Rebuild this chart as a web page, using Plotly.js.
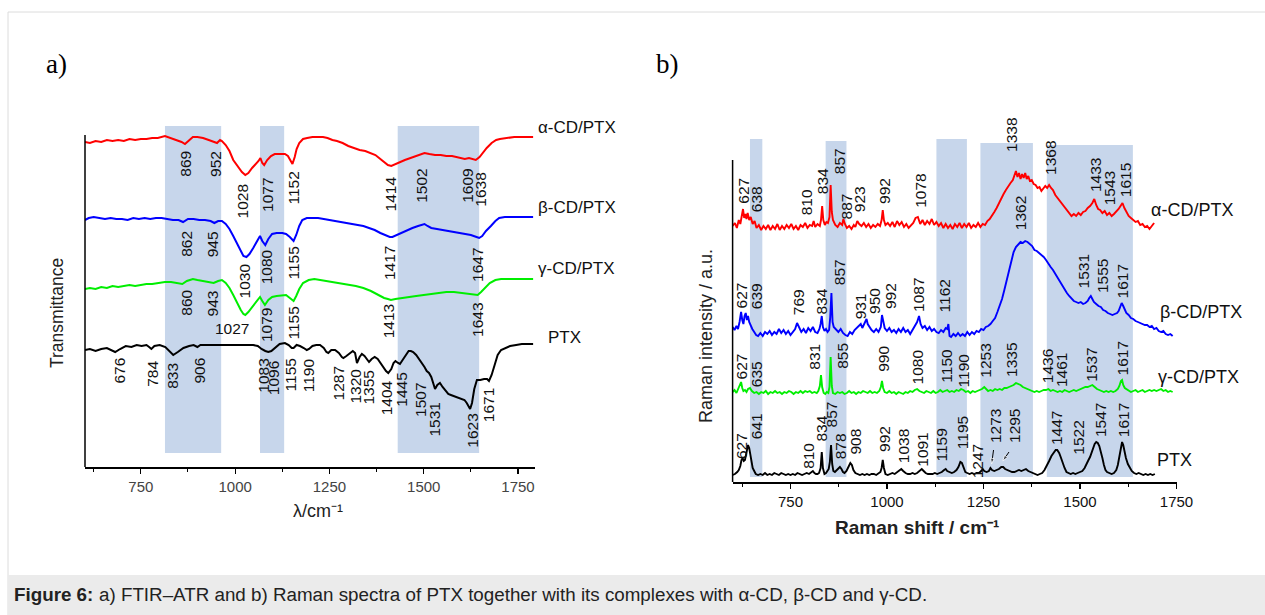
<!DOCTYPE html>
<html><head><meta charset="utf-8">
<script src="https://cdn.plot.ly/plotly-3.0.1.min.js"></script>
<style>html,body{margin:0;padding:0;background:#fff;}#chart{width:1265px;height:615px;}</style>
</head><body><div id="chart"></div>
<script>
// ---------- Panel a: FTIR-ATR (transmittance, offset, arbitrary units) ----------
const ftirAlphaX = [602,615,630,645,660,675,690,705,720,735,750,765,780,795,814,830,845,858,867,878,888,900,915,930,945,952,960,965,975,985,995,1008,1018,1027,1035,1045,1055,1062,1067,1072,1077,1085,1095,1105,1120,1132,1140,1147,1152,1158,1163,1170,1180,1191,1205,1220,1233,1245,1258,1270,1285,1300,1315,1330,1345,1360,1372,1385,1395,1405,1414,1425,1437,1450,1465,1480,1490,1502,1515,1530,1545,1560,1575,1588,1600,1609,1620,1630,1638,1648,1658,1667,1680,1692,1702,1720,1740,1760,1780,1790];
const ftirAlphaY = [325,324,326,325,327,326,327,326,328,327,328,328,329,329,331,329,327,325,323,327,330,330,329,327,325,324,327,326,322,316,307,300,295,292,294,299,303,306,309,304,302,307,311,313,313,313,311,306,303,310,318,324,328,329,330,330,330,329,327,326,324,321,319,317,316,314,312,308,305,302,301,303,305,307,309,311,313,314,313,312,312,311,311,310,309,308,309,308,307,310,315,319,324,327,328,329,330,330,330,330];

const ftirBetaX = [602,612,625,640,655,670,685,700,715,730,745,760,775,790,805,820,835,850,862,875,890,905,920,935,945,955,965,975,985,995,1005,1015,1022,1030,1038,1048,1058,1066,1072,1080,1088,1098,1110,1125,1135,1145,1155,1162,1170,1178,1190,1205,1220,1235,1250,1265,1280,1295,1310,1325,1340,1355,1370,1385,1400,1410,1417,1428,1440,1455,1470,1485,1495,1502,1510,1520,1535,1550,1565,1580,1595,1610,1625,1640,1647,1655,1665,1678,1690,1700,1715,1735,1760,1790];
const ftirBetaY = [247,249,250,249,248,249,248,248,247,249,248,249,248,249,249,248,247,247,245,248,248,247,247,246,244,246,246,243,238,231,223,215,211,210,213,219,226,231,226,222,228,233,234,234,233,230,226,232,241,247,249,249,249,248,247,246,245,244,243,242,241,239,237,234,232,230,230,232,234,237,239,241,242,243,241,239,238,237,236,235,234,233,232,230,229,231,236,241,246,249,250,250,250,250];

const ftirGammaX = [602,615,630,645,660,675,690,705,720,735,750,765,780,795,814,830,845,860,872,888,900,915,930,943,955,965,975,985,995,1005,1015,1022,1027,1035,1045,1055,1066,1072,1079,1088,1098,1110,1125,1135,1145,1155,1162,1170,1180,1195,1210,1225,1240,1260,1280,1300,1320,1340,1360,1380,1395,1405,1413,1425,1440,1460,1480,1500,1520,1540,1560,1580,1600,1620,1635,1643,1652,1662,1675,1690,1705,1730,1760,1790];
const ftirGammaY = [178,179,178,180,179,181,180,181,182,181,182,183,183,184,185,185,184,183,186,188,187,186,185,184,186,187,184,179,172,164,157,153,152,155,160,165,170,166,162,167,170,171,172,172,169,166,171,178,184,187,188,187,186,185,184,182,181,179,176,172,169,168,167,168,169,170,171,172,173,174,175,175,174,173,172,172,175,179,184,187,188,188,188,188];

const ftirPtxX = [602,615,630,645,660,670,682,695,710,725,739,752,765,772,778,786,800,815,825,836,848,863,878,890,900,908,925,945,965,985,1005,1025,1048,1060,1070,1080,1088,1096,1105,1118,1132,1142,1150,1155,1163,1172,1182,1190,1196,1205,1215,1225,1235,1242,1247,1255,1265,1275,1283,1287,1295,1305,1312,1318,1323,1330,1336,1343,1350,1355,1362,1370,1378,1385,1393,1400,1406,1414,1420,1425,1432,1437,1444,1452,1460,1466,1472,1480,1488,1495,1502,1508,1514,1520,1526,1530,1536,1543,1550,1558,1565,1572,1580,1590,1600,1608,1614,1619,1623,1628,1634,1641,1650,1660,1668,1673,1680,1688,1696,1705,1715,1729,1745,1760,1775,1790];
const ftirPtxY = [117,118,116,118,119,117,115,118,121,120,122,121,122,120,118,121,122,120,116,112,115,119,121,122,120,122,122,122,122,122,122,122,122,121,118,116,115,116,119,123,124,122,119,119,122,121,119,117,118,121,122,122,119,115,114,117,117,114,110,109,111,114,116,114,104,110,113,111,107,105,108,110,108,104,100,96,94,98,104,106,104,103,107,112,116,116,115,112,108,104,100,96,94,90,84,78,82,84,80,76,73,72,71,70,68,67,64,60,58,64,78,87,87,88,88,86,92,102,112,117,119,121,122,123,123,123];

const ftirBandStart = [814, 1066, 1431];
const ftirBandEnd   = [963, 1130, 1647];

const ftirAlphaLabels = ['869','952','1028','1077','1152','1414','1502','1609','1638'];
const ftirAlphaLabelX = [869, 949, 1022, 1087, 1156, 1413, 1495, 1617, 1651];
const ftirAlphaLabelY = [317, 317, 284, 290, 297, 292, 299, 299, 295];
const ftirBetaLabels = ['862','945','1030','1080','1155','1417','1647'];
const ftirBetaLabelX = [872, 942, 1026, 1084, 1156, 1408, 1641];
const ftirBetaLabelY = [237, 237, 205, 219, 222, 222, 220];
const ftirGammaLabels = ['860','943','1079','1155','1413','1643'];
const ftirGammaLabelX = [869, 940, 1082, 1156, 1406, 1641];
const ftirGammaLabelY = [178, 178, 160, 162, 164, 165];
const ftirGammaFlatLabel = '1027', ftirGammaFlatX = 993, ftirGammaFlatY = 139;
const ftirPtxLabels = ['676','784','833','906','1083','1096','1155','1190','1287','1320','1355','1404','1445','1507','1531','1623','1671'];
const ftirPtxLabelX = [691, 779, 832, 903, 1073, 1101, 1148, 1194, 1274, 1318, 1351, 1402, 1439, 1490, 1526, 1627, 1671];
const ftirPtxLabelY = [110, 107, 105, 110, 109, 107, 110, 110, 102, 99, 97, 88, 95, 85, 65, 54, 80];
const ftirSeriesNames = ['α-CD/PTX','β-CD/PTX','γ-CD/PTX','PTX'];

// ---------- Panel b: Raman (intensity, offset, a.u.) ----------
const ramanAlphaX = [600,606,611,616,620,624,627,630,633,636,639,643,647,652,657,662,668,674,680,686,692,698,704,710,716,722,728,734,740,746,752,758,764,770,776,782,788,794,800,806,810,814,820,826,829,832,835,839,843,847,851,854,857,860,866,872,878,884,887,891,896,902,908,914,918,923,928,934,940,946,952,958,964,970,976,982,986,989,992,996,1002,1008,1014,1020,1026,1032,1038,1044,1050,1056,1062,1068,1074,1080,1086,1092,1098,1104,1110,1116,1122,1128,1134,1140,1146,1152,1158,1164,1170,1176,1182,1188,1194,1200,1206,1212,1218,1224,1230,1236,1242,1248,1254,1260,1266,1272,1278,1284,1290,1296,1302,1308,1314,1320,1326,1330,1334,1338,1342,1346,1350,1354,1358,1362,1366,1370,1375,1380,1385,1390,1395,1400,1405,1410,1415,1420,1425,1430,1436,1442,1448,1454,1460,1466,1472,1478,1484,1490,1496,1502,1508,1514,1520,1526,1532,1537,1542,1547,1552,1558,1564,1570,1576,1582,1588,1594,1600,1605,1610,1615,1620,1626,1632,1638,1644,1650,1656,1662,1668,1674,1680,1686,1692];
const ramanAlphaY = [256,259,254,262,258,268,273,264,268,263,269,262,265,258,261,254,257,252,256,253,257,252,256,253,258,252,256,253,257,254,258,253,256,252,257,255,259,254,257,256,261,255,258,256,262,276,262,257,260,259,265,297,270,262,257,255,259,257,263,258,254,256,253,257,255,261,258,256,259,255,258,254,257,255,258,256,262,272,262,257,259,256,260,255,261,257,260,255,258,254,257,259,264,265,258,262,257,261,258,263,257,260,256,259,254,258,254,257,253,258,255,259,254,258,255,259,254,257,255,259,255,258,257,261,263,266,270,274,279,284,288,292,296,299,302,306,311,305,309,303,308,304,309,303,306,301,302,298,297,294,295,291,294,296,294,297,294,292,287,284,281,278,275,271,268,266,268,266,269,267,270,271,274,276,279,283,277,273,272,269,271,267,269,266,268,270,273,276,279,274,270,266,264,262,260,261,257,258,255,256,253,256,259];

const ramanBetaX = [600,605,610,614,618,622,625,628,631,634,637,640,643,647,651,656,661,666,672,678,684,690,696,702,708,714,720,726,732,738,744,750,756,762,767,772,778,784,790,796,802,808,814,820,825,828,831,834,838,842,846,850,853,856,859,862,868,874,880,886,892,898,904,910,916,922,928,932,936,940,944,947,950,954,960,966,972,978,984,987,990,994,1000,1006,1012,1018,1024,1030,1036,1042,1048,1054,1060,1066,1072,1078,1083,1087,1092,1098,1104,1110,1116,1122,1128,1134,1140,1146,1152,1156,1159,1162,1166,1172,1178,1184,1190,1196,1202,1208,1214,1220,1226,1232,1238,1244,1250,1256,1262,1268,1274,1280,1286,1292,1298,1304,1310,1316,1322,1328,1334,1340,1346,1352,1358,1364,1370,1376,1382,1388,1394,1400,1406,1412,1418,1424,1430,1436,1442,1448,1454,1460,1466,1472,1478,1484,1490,1496,1502,1508,1514,1520,1524,1528,1532,1536,1542,1548,1554,1560,1566,1572,1578,1584,1590,1596,1600,1604,1608,1612,1616,1620,1626,1632,1638,1644,1650,1656,1662,1668,1674,1680,1686,1692,1698,1704,1710,1716,1722,1728,1734,1740];
const ramanBetaY = [155,152,156,153,160,170,162,158,166,169,162,166,160,156,153,150,147,146,149,146,150,148,151,147,150,148,153,149,152,148,151,147,150,153,159,154,150,153,149,154,151,155,150,149,153,158,166,155,151,153,150,152,165,189,160,155,152,150,153,149,147,146,150,148,152,154,156,158,154,157,160,163,158,155,152,150,153,150,155,167,160,154,151,154,150,152,149,153,150,154,150,152,148,152,155,160,166,158,154,156,152,155,151,153,150,149,152,150,154,153,158,146,145,148,146,149,146,148,146,150,147,150,148,151,150,153,152,155,156,158,161,164,170,176,183,192,202,212,222,230,235,238,240,239,241,240,238,236,232,231,229,227,225,222,218,215,212,208,204,200,196,192,189,186,183,181,180,179,180,178,179,181,184,186,183,180,178,176,175,172,171,169,168,167,168,169,171,175,179,176,172,169,167,164,163,161,160,159,158,157,157,155,156,153,154,151,150,151,148,147,148,146];

const ramanGammaX = [600,605,610,614,618,622,625,628,632,636,640,645,650,656,662,668,674,680,686,692,698,704,710,716,722,728,734,740,746,752,758,764,770,776,782,788,794,800,806,812,818,822,826,829,832,836,840,844,848,851,854,857,860,866,872,878,884,890,896,902,908,914,920,926,932,938,944,950,956,962,968,974,980,984,987,990,994,1000,1006,1012,1018,1024,1030,1036,1042,1048,1054,1060,1066,1072,1078,1084,1090,1096,1102,1108,1114,1120,1126,1132,1138,1144,1150,1156,1162,1168,1174,1180,1186,1192,1198,1204,1210,1216,1222,1228,1234,1240,1246,1252,1256,1262,1268,1274,1280,1286,1292,1298,1304,1310,1316,1322,1328,1334,1340,1346,1352,1358,1364,1370,1376,1382,1388,1394,1400,1406,1412,1418,1424,1430,1436,1442,1448,1454,1460,1466,1472,1478,1484,1490,1496,1502,1508,1514,1520,1526,1532,1538,1544,1550,1556,1562,1568,1574,1580,1586,1592,1598,1602,1606,1609,1612,1616,1620,1626,1632,1638,1644,1650,1656,1662,1668,1674,1680,1686,1692,1698,1704,1710,1716,1722,1728,1734,1740];
const ramanGammaY = [90,92,89,93,95,100,94,91,92,90,93,94,91,89,90,88,90,89,91,88,90,89,91,89,90,88,90,89,91,90,88,90,89,91,89,91,90,91,89,90,89,91,96,107,95,89,88,90,89,95,125,96,89,88,90,89,90,88,89,91,89,90,88,90,89,91,90,89,91,89,90,89,91,95,101,94,90,89,91,89,90,88,90,89,88,90,89,91,90,92,93,91,90,89,91,90,89,91,89,90,92,90,91,92,90,91,90,92,91,93,92,90,91,89,91,90,91,92,93,95,93,91,92,91,93,92,93,92,94,94,95,96,97,99,98,97,95,94,93,92,91,90,91,90,91,92,92,93,91,92,91,90,91,90,92,91,90,91,92,91,92,93,94,95,95,96,97,95,93,92,91,90,91,90,91,90,91,93,96,101,102,97,94,93,92,90,91,92,90,91,92,90,91,92,91,92,91,92,93,91,92,90,91,90];

const ramanPtxX = [600,606,612,616,620,623,626,629,632,635,638,640,643,646,649,652,656,660,666,672,678,684,690,696,702,708,714,720,726,732,738,744,750,756,762,768,774,780,786,792,798,804,808,812,816,820,824,828,831,834,838,842,846,849,852,855,858,861,865,870,874,878,882,886,890,895,900,905,909,913,918,924,930,936,942,948,954,960,966,972,978,983,986,989,992,996,1002,1008,1014,1020,1026,1032,1037,1042,1048,1054,1060,1066,1072,1078,1084,1090,1095,1100,1106,1112,1118,1124,1130,1136,1142,1148,1152,1156,1162,1168,1174,1180,1185,1190,1194,1198,1203,1208,1214,1220,1226,1232,1238,1244,1248,1252,1258,1264,1268,1272,1278,1284,1290,1296,1301,1306,1312,1318,1324,1330,1336,1342,1348,1354,1360,1366,1372,1378,1384,1390,1396,1402,1408,1414,1420,1426,1432,1437,1441,1446,1450,1455,1460,1465,1470,1476,1482,1488,1494,1500,1506,1512,1518,1522,1526,1530,1534,1538,1542,1546,1550,1554,1558,1562,1566,1570,1576,1582,1588,1594,1598,1602,1606,1609,1612,1615,1619,1624,1629,1634,1640,1646,1652,1658,1664,1670,1676,1682,1688,1694];
const ramanPtxY = [7,8,10,12,16,22,24,21,22,27,33,37,34,28,20,14,11,8,7,8,7,9,7,8,7,9,8,7,9,8,7,8,7,8,7,9,8,7,8,9,8,10,11,9,8,8,9,14,30,14,8,9,11,13,20,37,18,11,10,12,14,15,13,10,9,11,15,19,17,12,9,8,7,8,7,8,7,8,8,7,9,10,14,22,14,8,7,8,9,8,10,12,13,11,9,8,8,9,8,9,11,13,11,9,8,8,8,9,8,9,10,12,13,11,10,9,10,12,15,20,19,14,10,9,8,9,8,9,9,11,13,11,10,11,14,12,11,12,13,15,15,13,12,11,10,10,11,12,11,12,13,11,10,9,8,7,8,9,12,16,21,26,30,32,32,29,25,19,14,10,9,8,9,8,9,10,11,14,18,22,25,30,34,38,40,39,36,31,24,17,12,10,9,8,9,12,17,25,34,40,37,30,24,18,14,11,9,8,9,8,7,8,7,8,7,8];

const ramanBandStart = [645, 841, 1128, 1242, 1414];
const ramanBandEnd   = [677, 895, 1207, 1378, 1637];
const ramanBandTop   = [343, 341, 343, 339, 337];
const ramanBandBottom = 5;

const ramanAlphaLabels = ['627','638','810','834','857','887','923','992','1078','1338','1368','1433','1543','1615'];
const ramanAlphaLabelX = [626, 661, 791, 832, 876, 895, 928, 992, 1085, 1321, 1422, 1539, 1576, 1617];
const ramanAlphaLabelY = [305, 297, 294, 315, 335, 290, 297, 305, 309, 365, 342, 325, 312, 320];
const ramanBetaLabels = ['627','639','769','834','857','931','950','992','1087','1162','1362','1531','1555','1617'];
const ramanBetaLabelX = [623, 661, 770, 828, 876, 931, 966, 1008, 1080, 1150, 1345, 1509, 1557, 1610];
const ramanBetaLabelY = [201, 200, 194, 194, 224, 190, 195, 200, 205, 204, 287, 229, 224, 219];
const ramanGammaLabels = ['627','635','831','855','990','1080','1150','1190','1253','1335','1436','1461','1537','1617'];
const ramanGammaLabelX = [623, 661, 810, 883, 989, 1080, 1152, 1198, 1253, 1321, 1415, 1451, 1528, 1610];
const ramanGammaLabelY = [130, 122, 139, 140, 137, 134, 134, 130, 139, 140, 134, 130, 135, 142];
const ramanPtxLabels = ['627','641','810','834','857','878','908','992','1038','1091','1159','1195','1247','1273','1295','1447','1522','1547','1617'];
const ramanPtxLabelX = [622, 661, 795, 828, 856, 879, 916, 992, 1042, 1090, 1140, 1196, 1234, 1280, 1329, 1438, 1494, 1552, 1612];
const ramanPtxLabelY = [50, 70, 40, 67, 82, 50, 54, 57, 54, 50, 54, 67, 39, 74, 74, 72, 62, 80, 80];
const ramanArrowTailX = [1276, 1316], ramanArrowTailY = [32, 30];
const ramanArrowTipX = [1271, 1300], ramanArrowTipY = [18, 21];
const ramanSeriesNames = ['α-CD/PTX','β-CD/PTX','γ-CD/PTX','PTX'];
const ramanSeriesNameX = [1680, 1702, 1697, 1694];
const ramanSeriesNameY = [272, 170, 105, 22];

// ---------- layout helpers ----------
const W = 1265, H = 615;
const PX = v => v / W, PY = v => 1 - v / H;
const FONT = 'Liberation Sans, Arial, sans-serif';
const LBL = 15.5;

function rotLabels(texts, xs, ys, xr, yr) {
  return texts.map((t, i) => ({text: t, x: xs[i], y: ys[i], xref: xr, yref: yr, textangle: -90,
    xanchor: 'center', yanchor: 'top', showarrow: false, borderpad: 0,
    font: {family: FONT, size: LBL, color: '#111'}}));
}
function nameLabels(texts, xs, ys, xr, yr, size) {
  return texts.map((t, i) => ({text: t, x: xs[i], y: ys[i], xref: xr, yref: yr,
    xanchor: 'left', yanchor: 'middle', showarrow: false,
    font: {family: FONT, size: size, color: '#111'}}));
}
function pageText(text, xpx, ypx, size, opts) {
  return Object.assign({text: text, x: PX(xpx), y: PY(ypx), xref: 'paper', yref: 'paper',
    xanchor: 'center', yanchor: 'middle', showarrow: false,
    font: {family: FONT, size: size, color: '#222'}}, opts || {});
}

const line = (x, y, c, xa, ya, w) => ({x, y, type: 'scatter', mode: 'lines', xaxis: xa, yaxis: ya,
  line: {color: c, width: w}, hoverinfo: 'skip'});

const traces = [
  line(ftirAlphaX, ftirAlphaY, '#ff0000', 'x', 'y', 2),
  line(ftirBetaX, ftirBetaY, '#0000ff', 'x', 'y', 2),
  line(ftirGammaX, ftirGammaY, '#00ee00', 'x', 'y', 2),
  line(ftirPtxX, ftirPtxY, '#000000', 'x', 'y', 2),
  line(ramanAlphaX, ramanAlphaY, '#ff0000', 'x2', 'y2', 1.9),
  line(ramanBetaX, ramanBetaY, '#0000ff', 'x2', 'y2', 1.9),
  line(ramanGammaX, ramanGammaY, '#00ee00', 'x2', 'y2', 1.9),
  line(ramanPtxX, ramanPtxY, '#000000', 'x2', 'y2', 1.9)
];
// small pointer arrows for 1273 / 1295
ramanArrowTailX.forEach((tx, i) => traces.push({
  x: [tx, ramanArrowTipX[i]], y: [ramanArrowTailY[i], ramanArrowTipY[i]], type: 'scatter', mode: 'lines+markers',
  xaxis: 'x2', yaxis: 'y2', hoverinfo: 'skip', line: {color: '#000', width: 1},
  marker: {symbol: ['circle', 'arrow'], size: [0, 6], angleref: 'previous', color: '#000'}
}));

const BAND = 'rgb(199,214,235)';
const shapes = [];
// page frame + caption band
shapes.push({type: 'line', xref: 'paper', yref: 'paper', x0: PX(8), x1: 1, y0: PY(12), y1: PY(12), line: {color: '#dcdcdc', width: 1}});
shapes.push({type: 'line', xref: 'paper', yref: 'paper', x0: PX(8), x1: PX(8), y0: PY(12), y1: 0, line: {color: '#dcdcdc', width: 1}});
shapes.push({type: 'rect', xref: 'paper', yref: 'paper', x0: PX(8), x1: 1, y0: 0, y1: PY(575), fillcolor: '#ebebeb', line: {width: 0}});
ftirBandStart.forEach((s, i) => shapes.push({type: 'rect', xref: 'x', yref: 'y', x0: s, x1: ftirBandEnd[i], y0: 14, y1: 341,
  fillcolor: BAND, line: {width: 0}, layer: 'below'}));
ramanBandStart.forEach((s, i) => shapes.push({type: 'rect', xref: 'x2', yref: 'y2', x0: s, x1: ramanBandEnd[i], y0: ramanBandBottom, y1: ramanBandTop[i],
  fillcolor: BAND, line: {width: 0}, layer: 'below'}));
// y axis lines (no ticks)
shapes.push({type: 'line', xref: 'paper', yref: 'paper', x0: PX(85), x1: PX(85), y0: PY(467), y1: PY(135), line: {color: '#000', width: 1.5}});
shapes.push({type: 'line', xref: 'paper', yref: 'paper', x0: PX(732.6), x1: PX(732.6), y0: PY(482), y1: PY(160), line: {color: '#000', width: 1.5}});

let annotations = [];
annotations = annotations.concat(
  rotLabels(ftirAlphaLabels, ftirAlphaLabelX, ftirAlphaLabelY, 'x', 'y'),
  rotLabels(ftirBetaLabels, ftirBetaLabelX, ftirBetaLabelY, 'x', 'y'),
  rotLabels(ftirGammaLabels, ftirGammaLabelX, ftirGammaLabelY, 'x', 'y'),
  rotLabels(ftirPtxLabels, ftirPtxLabelX, ftirPtxLabelY, 'x', 'y'),
  rotLabels(ramanAlphaLabels, ramanAlphaLabelX, ramanAlphaLabelY, 'x2', 'y2'),
  rotLabels(ramanBetaLabels, ramanBetaLabelX, ramanBetaLabelY, 'x2', 'y2'),
  rotLabels(ramanGammaLabels, ramanGammaLabelX, ramanGammaLabelY, 'x2', 'y2'),
  rotLabels(ramanPtxLabels, ramanPtxLabelX, ramanPtxLabelY, 'x2', 'y2'),
  nameLabels(ftirSeriesNames, [PX(536), PX(536), PX(536), PX(546)], [PY(127), PY(207), PY(268), PY(337)], 'paper', 'paper', 17),
  nameLabels(ramanSeriesNames, ramanSeriesNameX, ramanSeriesNameY, 'x2', 'y2', 18)
);
annotations.push({text: ftirGammaFlatLabel, x: ftirGammaFlatX, y: ftirGammaFlatY, xref: 'x', yref: 'y',
  showarrow: false, xanchor: 'center', yanchor: 'middle', font: {family: FONT, size: LBL, color: '#111'}});
// panel letters, axis titles, caption
const SERIF = 'Liberation Serif, Times New Roman, serif';
annotations.push(pageText('a)', 57, 64, 27, {font: {family: SERIF, size: 27, color: '#000'}}));
annotations.push(pageText('b)', 668, 64, 27, {font: {family: SERIF, size: 27, color: '#000'}}));
annotations.push(pageText('Transmittance', 57, 313, 17.5, {textangle: -90}));
annotations.push(pageText('λ/cm⁻¹', 318, 511, 18));
annotations.push(pageText('Raman intensity / a.u.', 706, 336, 18, {textangle: -90}));
annotations.push(pageText('Raman shift / cm⁻¹', 917, 527, 19, {font: {family: FONT, size: 19, color: '#222', weight: 'bold'}}));
annotations.push(pageText('Figure 6:', 12, 594, 18.8, {xanchor: 'left', font: {family: FONT, size: 18.8, color: '#222', weight: 'bold'}}));
annotations.push(pageText('a) FTIR–ATR and b) Raman spectra of PTX together with its complexes with α-CD, β-CD and γ-CD.',
  96.5, 594, 18.8, {xanchor: 'left'}));

const xaxisCommon = {showline: true, linecolor: '#000', linewidth: 1.5, ticks: 'outside', ticklen: 5, tickwidth: 1.2,
  tickcolor: '#000', tick0: 750, dtick: 250, showgrid: false, zeroline: false, fixedrange: true,
  minor: {ticks: 'outside', ticklen: 3, tickwidth: 1, tickcolor: '#000', tick0: 625, dtick: 250}};

const layout = {
  width: W, height: H, margin: {l: 0, r: 0, t: 0, b: 0},
  paper_bgcolor: '#fff', plot_bgcolor: 'rgba(0,0,0,0)', showlegend: false,
  xaxis: Object.assign({}, xaxisCommon, {domain: [PX(85), PX(535)], range: [602, 1795], anchor: 'y',
    tickfont: {family: FONT, size: 15, color: '#444'}}),
  yaxis: {domain: [PY(467), PY(126)], range: [0, 341], visible: false, fixedrange: true, anchor: 'x'},
  xaxis2: Object.assign({}, xaxisCommon, {domain: [PX(732.6), PX(1176.5)], range: [600, 1750], anchor: 'y2',
    tickfont: {family: FONT, size: 15, color: '#111'}}),
  yaxis2: {domain: [PY(482), PY(100)], range: [0, 382], visible: false, fixedrange: true, anchor: 'x2'},
  shapes: shapes,
  annotations: annotations
};

Plotly.newPlot('chart', traces, layout, {staticPlot: true, displayModeBar: false});
</script></body></html>
